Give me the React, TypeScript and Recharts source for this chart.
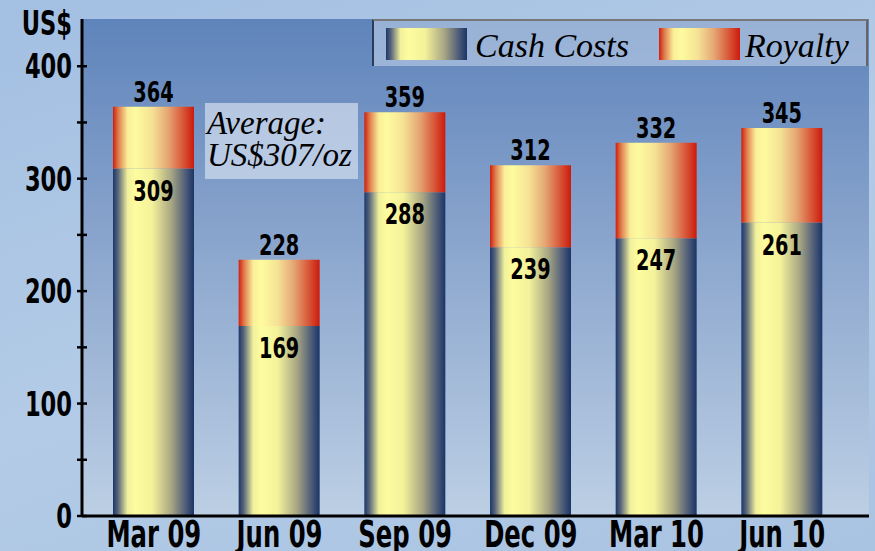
import React from 'react';
import { BarChart, Bar, XAxis, YAxis, CartesianGrid, LabelList } from 'recharts';

const categories = ['Mar 09', 'Jun 09', 'Sep 09', 'Dec 09', 'Mar 10', 'Jun 10'];
const cashCosts = [309, 169, 288, 239, 247, 261];
const royalty = [55, 59, 71, 73, 85, 84];
const totals = [364, 228, 359, 312, 332, 345];
const yTicks = [0, 50, 100, 150, 200, 250, 300, 350, 400];
const yMajor = [0, 100, 200, 300, 400];

const data = categories.map((c, i) => ({
  name: c,
  cash: cashCosts[i],
  royalty: royalty[i],
  total: totals[i],
}));

const COND = "'DejaVu Sans Condensed', 'DejaVu Sans', Arial, sans-serif";
const SERIF = "'Liberation Serif', 'DejaVu Serif', serif";

const CText = ({ x, y, anchor, size, sx, children }: any) => (
  <text
    transform={`translate(${x},${y}) scale(${sx},1)`}
    x={0}
    y={0}
    textAnchor={anchor}
    fontFamily={COND}
    fontWeight="bold"
    fontSize={size}
    fill="#000"
  >
    {children}
  </text>
);

const YTick = (props: any) => {
  const { x, y, payload } = props;
  const major = yMajor.includes(payload.value);
  return (
    <g>
      <line x1={x - 5} x2={x + 5} y1={y} y2={y} stroke="#000" strokeWidth={2.5} />
      {major && (
        <CText x={x - 10} y={y + 12} anchor="end" size={33} sx={0.76}>
          {payload.value}
        </CText>
      )}
    </g>
  );
};

const XTick = (props: any) => {
  const { x, y, payload } = props;
  return (
    <CText x={x} y={y + 31} anchor="middle" size={37} sx={0.73}>
      {payload.value}
    </CText>
  );
};

const TopLabel = (props: any) => {
  const { x, y, width, value } = props;
  return (
    <CText x={x + width / 2} y={y - 5} anchor="middle" size={27.5} sx={0.78}>
      {value}
    </CText>
  );
};

const InsideLabel = (props: any) => {
  const { x, y, width, value } = props;
  return (
    <CText x={x + width / 2} y={y + 12 + 20} anchor="middle" size={27.5} sx={0.78}>
      {value}
    </CText>
  );
};

export default function App() {
  return (
    <div
      style={{
        position: 'absolute',
        left: 0,
        top: 0,
        width: 875,
        height: 551,
        overflow: 'hidden',
        background: 'linear-gradient(160deg, #a3bfe2 0%, #b3cbe6 50%, #a9c3e2 100%)',
      }}
    >
      <BarChart
        width={875}
        height={551}
        data={data}
        margin={{ top: 19, right: 6, bottom: 0, left: 0 }}
        barCategoryGap={0}
      >
        <defs>
          <linearGradient id="cashGrad" x1="0" y1="0" x2="1" y2="0">
            <stop offset="0%" stopColor="#1c3768" />
            <stop offset="6%" stopColor="#56647a" />
            <stop offset="18%" stopColor="#f2f19c" />
            <stop offset="28%" stopColor="#fdfc9f" />
            <stop offset="48%" stopColor="#f4f29a" />
            <stop offset="72%" stopColor="#a8a683" />
            <stop offset="90%" stopColor="#4c5b78" />
            <stop offset="100%" stopColor="#1b3566" />
          </linearGradient>
          <linearGradient id="royGrad" x1="0" y1="0" x2="1" y2="0">
            <stop offset="0%" stopColor="#cf1e0e" />
            <stop offset="7%" stopColor="#e0804f" />
            <stop offset="18%" stopColor="#fbef99" />
            <stop offset="28%" stopColor="#fefb9f" />
            <stop offset="48%" stopColor="#f5e295" />
            <stop offset="68%" stopColor="#e5a674" />
            <stop offset="86%" stopColor="#d8583a" />
            <stop offset="100%" stopColor="#cc1a0c" />
          </linearGradient>
          <linearGradient id="plotBg" x1="0" y1="0" x2="0" y2="1">
            <stop offset="0%" stopColor="#5f84bb" />
            <stop offset="50%" stopColor="#8fa9cf" />
            <stop offset="100%" stopColor="#bccfe4" />
          </linearGradient>
        </defs>
        <CartesianGrid horizontal={false} vertical={false} fill="url(#plotBg)" />
        <XAxis
          dataKey="name"
          height={35}
          padding={{ left: 9, right: 24 }}
          axisLine={{ stroke: '#000', strokeWidth: 3 }}
          tickLine={false}
          tickSize={0}
          tickMargin={0}
          tick={<XTick />}
          interval={0}
        />
        <XAxis
          xAxisId="top"
          dataKey="name"
          orientation="top"
          height={0}
          axisLine={{ stroke: '#000', strokeWidth: 3 }}
          tickLine={false}
          tick={false}
        />
        <YAxis
          width={82}
          domain={[0, 442]}
          ticks={yTicks}
          interval={0}
          allowDataOverflow
          axisLine={{ stroke: '#000', strokeWidth: 3 }}
          tickLine={false}
          tickSize={0}
          tickMargin={0}
          tick={<YTick />}
          label={{
            content: (p: any) => {
              const vb = p.viewBox || { x: 0, y: 19, width: 82 };
              return (
                <CText x={vb.x + vb.width - 10} y={vb.y + 16} anchor="end" size={33} sx={0.76}>
                  US$
                </CText>
              );
            },
          }}
        />
        <YAxis
          yAxisId="right"
          orientation="right"
          width={0}
          domain={[0, 442]}
          axisLine={{ stroke: '#000', strokeWidth: 3 }}
          tickLine={false}
          tick={false}
        />
        <Bar dataKey="cash" stackId="a" barSize={81} fill="url(#cashGrad)" isAnimationActive={false}>
          <LabelList dataKey="cash" content={<InsideLabel />} />
        </Bar>
        <Bar dataKey="royalty" stackId="a" barSize={81} fill="url(#royGrad)" isAnimationActive={false}>
          <LabelList dataKey="total" content={<TopLabel />} />
        </Bar>
      </BarChart>

      {/* Legend */}
      <div
        style={{
          position: 'absolute',
          left: 372,
          top: 19,
          width: 496,
          height: 47,
          background: 'rgba(190, 208, 232, 0.6)',
          borderTop: '2px solid #777',
          borderRight: '2px solid #666',
          borderLeft: '2px solid #2a3c5a',
          boxSizing: 'border-box',
        }}
      >
        <svg width={496} height={47} style={{ position: 'absolute', left: 0, top: 0 }}>
          <rect x={12} y={7} width={81} height={32} fill="url(#cashGrad)" />
          <text x={101} y={36} fontFamily={SERIF} fontStyle="italic" fontSize={34} fill="#000">
            Cash Costs
          </text>
          <rect x={285} y={7} width={81} height={32} fill="url(#royGrad)" />
          <text x={371} y={36} fontFamily={SERIF} fontStyle="italic" fontSize={34} fill="#000">
            Royalty
          </text>
        </svg>
      </div>

      {/* Annotation */}
      <div
        style={{
          position: 'absolute',
          left: 205,
          top: 103,
          width: 153,
          height: 76,
          background: 'rgba(205, 218, 236, 0.75)',
        }}
      >
        <svg width={153} height={76} style={{ position: 'absolute', left: 0, top: 0 }}>
          <text x={2} y={31} fontFamily={SERIF} fontStyle="italic" fontSize={33} fill="#000">
            Average:
          </text>
          <text x={2} y={63} fontFamily={SERIF} fontStyle="italic" fontSize={33} fill="#000">
            US$307/oz
          </text>
        </svg>
      </div>
    </div>
  );
}
